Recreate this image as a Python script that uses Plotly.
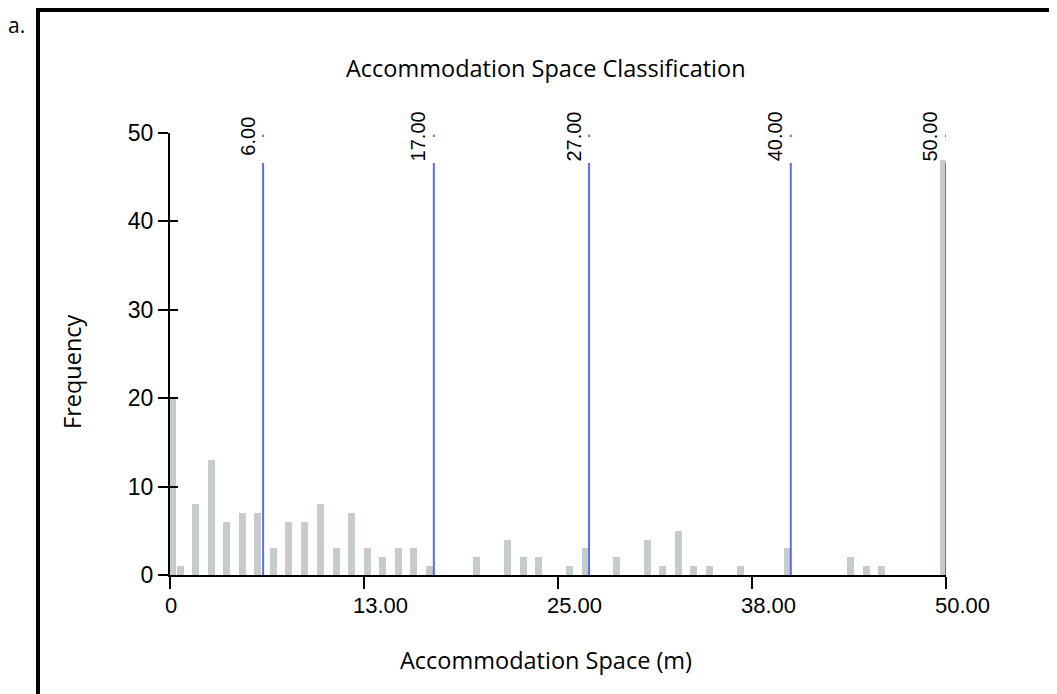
import plotly.graph_objects as go

# ---- data ----
bin_centers = [0.15, 0.65, 1.65, 2.65, 3.65, 4.65, 5.65, 6.65, 7.65, 8.65, 9.7, 10.7,
               11.7, 12.7, 13.7, 14.7, 15.7, 16.75, 19.75, 21.75, 22.75, 23.75, 25.75,
               26.75, 28.75, 30.75, 31.75, 32.75, 33.75, 34.75, 36.75, 39.8, 43.85,
               44.85, 45.85, 49.85]
frequencies = [20, 1, 8, 13, 6, 7, 7, 3, 6, 6, 8, 3, 7, 3, 2, 3, 3, 1, 2, 4, 2, 2, 1,
               3, 2, 4, 1, 5, 1, 1, 1, 3, 2, 1, 1, 47]
class_breaks = [6.0, 17.0, 27.0, 40.0, 50.0]
break_labels = ["6.00", "17.00", "27.00", "40.00", "50.00"]
x_tick_vals = [0, 12.5, 25, 37.5, 50]
x_tick_text = ["0", "13.00", "25.00", "38.00", "50.00"]
y_tick_vals = [0, 10, 20, 30, 40, 50]

TITLE = "Accommodation Space Classification"
X_TITLE = "Accommodation Space (m)"
Y_TITLE = "Frequency"

NUM_FONT = "Liberation Sans, Arial, sans-serif"
TXT_FONT = "Open Sans, Noto Sans, sans-serif"
BAR_COLOR = "#c6cccb"
LINE_COLOR = "#5a6cf2"

# page body has an 8px margin: figure is placed at (8, 8)
OFF = 8
L, T, PW, PH = 170 - OFF, 133 - OFF, 776, 442
W, H = 1057 - OFF, 694 - OFF

def px(xp):
    return (xp - 170) / PW

def py(yp):
    return (575 - yp) / PH

fig = go.Figure()

fig.add_trace(go.Bar(x=bin_centers, y=frequencies, width=0.45,
                     marker=dict(color=BAR_COLOR, line=dict(width=0)),
                     showlegend=False, hoverinfo="x+y"))

# class break lines
lx, ly = [], []
for b in class_breaks:
    lx += [b, b, None, b, b, None]
    ly += [0, 46.6, None, 49.55, 49.8, None]
fig.add_trace(go.Scatter(x=lx, y=ly, mode="lines", cliponaxis=False,
                         line=dict(color=LINE_COLOR, width=2),
                         showlegend=False, hoverinfo="skip"))

# invisible trace for inside-tick overlay axis
fig.add_trace(go.Scatter(x=[0], y=[0], yaxis="y2", mode="markers",
                         marker=dict(opacity=0), showlegend=False, hoverinfo="skip"))

annotations = []
for b, t in zip(class_breaks, break_labels):
    annotations.append(dict(x=b, y=49.6, xref="x", yref="y", text=t, textangle=-90,
                            showarrow=False, xanchor="right", yanchor="middle", xshift=-3,
                            font=dict(family=NUM_FONT, size=20, color="black")))

for v, t in zip(x_tick_vals, x_tick_text):
    intpart = t.split(".")[0]
    shift = -len(intpart) * 0.556 * 22 / 2
    annotations.append(dict(x=v, y=0, xref="x", yref="y", text=t, showarrow=False,
                            xanchor="left", yanchor="middle", xshift=shift - 1, yshift=-30,
                            font=dict(family=NUM_FONT, size=22, color="black")))

annotations += [
    dict(x=px(546), y=py(68), xref="paper", yref="paper", text=TITLE, showarrow=False,
         xanchor="center", yanchor="middle",
         font=dict(family=TXT_FONT, size=23.5, color="black")),
    dict(x=px(546), y=py(660), xref="paper", yref="paper", text=X_TITLE, showarrow=False,
         xanchor="center", yanchor="middle",
         font=dict(family=TXT_FONT, size=23.5, color="black")),
    dict(x=px(72), y=py(372), xref="paper", yref="paper", text=Y_TITLE, showarrow=False,
         textangle=-90, xanchor="center", yanchor="middle",
         font=dict(family=TXT_FONT, size=23.5, color="black")),
    dict(x=px(16), y=py(25), xref="paper", yref="paper", text="a.",
         showarrow=False, xanchor="center", yanchor="middle",
         font=dict(family=TXT_FONT, size=21, color="black")),
]

fig.update_layout(
    width=W, height=H,
    margin=dict(l=L, r=W - L - PW, t=T, b=H - T - PH),
    paper_bgcolor="white", plot_bgcolor="white",
    bargap=0,
    annotations=annotations,
    xaxis=dict(range=[0, 50], showgrid=False, zeroline=False, showline=True,
               linecolor="black", linewidth=2, ticks="outside", ticklen=12,
               tickwidth=2, tickcolor="black", tickvals=x_tick_vals,
               showticklabels=False),
    yaxis=dict(range=[0, 50], showgrid=False, zeroline=False, showline=True,
               linecolor="black", linewidth=2, ticks="outside", ticklen=10,
               tickwidth=2, tickcolor="black", tickvals=y_tick_vals,
               tickfont=dict(family=NUM_FONT, size=23, color="black")),
    yaxis2=dict(range=[0, 50], overlaying="y", anchor="x", side="left",
                showgrid=False, zeroline=False, showline=False,
                ticks="inside", ticklen=8, tickwidth=2, tickcolor="black",
                tickvals=y_tick_vals, showticklabels=False),
    shapes=[dict(type="rect", xref="paper", yref="paper",
                 x0=px(38), x1=px(1075),
                 y0=py(715), y1=py(10),
                 line=dict(color="black", width=4), fillcolor="rgba(0,0,0,0)",
                 layer="below")],
)

fig.write_html("out.html")
